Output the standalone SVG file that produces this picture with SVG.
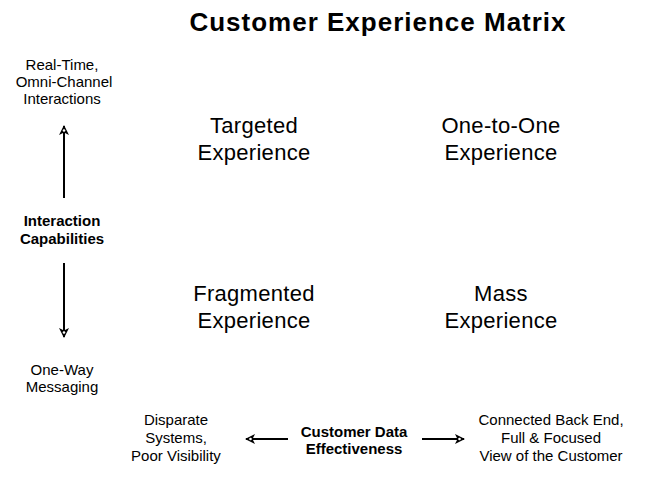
<svg xmlns="http://www.w3.org/2000/svg" width="655" height="484" viewBox="0 0 655 484">
<style>
text{font-family:"Liberation Sans",Arial,sans-serif;fill:#000;text-anchor:middle}
.t{font-size:26px;font-weight:bold;letter-spacing:1px}
.q{font-size:22px;letter-spacing:0.3px}
.s{font-size:15px}
.b{font-size:15px;font-weight:bold}
.ln{stroke:#000;stroke-width:2;fill:none}
</style>
<defs>
<marker id="ah" viewBox="0 0 10 10" refX="9" refY="5" markerWidth="5" markerHeight="5" orient="auto" markerUnits="strokeWidth">
<path d="M0,0 L10,5 L0,10 L2.5,5 Z" fill="#000"/>
<circle cx="4.5" cy="5" r="1.3" fill="#fff"/>
</marker>
</defs>
<rect width="655" height="484" fill="#fff"/>
<g id="title"><text class="t" x="378" y="31">Customer Experience Matrix</text></g>
<g id="targeted"><text class="q" x="254" y="133">Targeted</text><text class="q" x="254" y="160">Experience</text></g>
<g id="one-to-one"><text class="q" x="501" y="133">One-to-One</text><text class="q" x="501" y="160">Experience</text></g>
<g id="fragmented"><text class="q" x="254" y="301">Fragmented</text><text class="q" x="254" y="328">Experience</text></g>
<g id="mass"><text class="q" x="501" y="301">Mass</text><text class="q" x="501" y="328">Experience</text></g>
<g id="realtime"><text class="s" x="62" y="70">Real-Time,</text><text class="s" x="64" y="87">Omni-Channel</text><text class="s" x="62" y="104">Interactions</text></g>
<g id="interaction"><text class="b" x="62" y="226">Interaction</text><text class="b" x="62" y="244">Capabilities</text></g>
<g id="oneway"><text class="s" x="62" y="375">One-Way</text><text class="s" x="62" y="392">Messaging</text></g>
<g id="disparate"><text class="s" x="176" y="425">Disparate</text><text class="s" x="176" y="443">Systems,</text><text class="s" x="176" y="461">Poor Visibility</text></g>
<g id="customerdata"><text class="b" x="354" y="437">Customer Data</text><text class="b" x="354" y="454">Effectiveness</text></g>
<g id="connected"><text class="s" x="551" y="425">Connected Back End,</text><text class="s" x="551" y="443">Full &amp; Focused</text><text class="s" x="551" y="461">View of the Customer</text></g>
<g id="connectors">
<line class="ln" x1="64" y1="198" x2="64" y2="126" marker-end="url(#ah)"/>
<line class="ln" x1="64" y1="263" x2="64" y2="337" marker-end="url(#ah)"/>
<line class="ln" x1="288" y1="439" x2="246" y2="439" marker-end="url(#ah)"/>
<line class="ln" x1="422" y1="439" x2="464" y2="439" marker-end="url(#ah)"/>
</g>
</svg>
